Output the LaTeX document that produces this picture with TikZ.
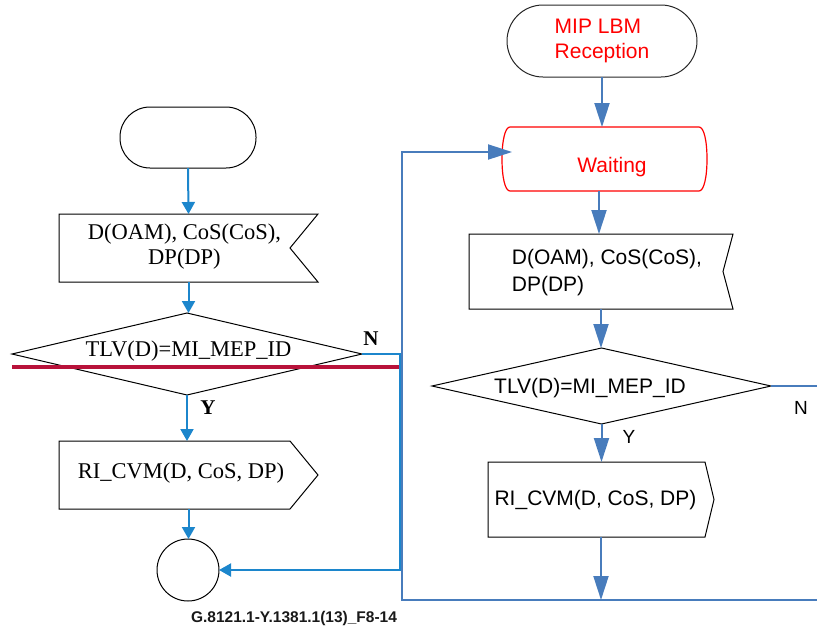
\documentclass[tikz,border=0pt]{standalone}
\usepackage{fontspec}
\setmainfont{Liberation Serif}
\newfontfamily\sansF{Liberation Sans}
\usetikzlibrary{arrows.meta,calc}
\definecolor{lblue}{RGB}{28,134,204}
\definecolor{rblue}{RGB}{72,124,188}
\definecolor{crim}{RGB}{184,18,58}
\definecolor{wred}{RGB}{255,0,0}
\begin{document}
\begin{tikzpicture}[x=1pt,y=-1pt,
  frame/.style={inner sep=0pt, outer sep=0pt},
  outline/.style={draw=black, line width=1pt},
  lserif/.style={inner sep=0pt, font=\fontsize{22.5}{25}\selectfont},
  rsans/.style={inner sep=0pt, font=\sansF\fontsize{21}{27}\selectfont},
  lbl/.style={inner sep=0pt, font=\bfseries\fontsize{21}{24}\selectfont},
  rlbl/.style={inner sep=0pt, font=\sansF\fontsize{19}{22}\selectfont},
  lline/.style={draw=lblue, line width=2pt},
  lflow/.style={lline, -{Triangle[length=12pt,width=13pt]}},
  rline/.style={draw=rblue, line width=2pt},
  rflow/.style={rline, -{Triangle[length=24pt,width=15pt]}}]
\useasboundingbox (0,0) rectangle (817,630);

% ---------- left chart ----------
\node[frame, outline, rounded corners=30pt, minimum width=136pt, minimum height=61pt] (lterm) at (188,137.5) {};

\node[frame, minimum width=259pt, minimum height=68pt] (lrecv) at (188.5,248) {};
\draw[outline] (lrecv.north west) -- (lrecv.north east) -- ($(lrecv.east)+(-28,0)$) -- (lrecv.south east) -- (lrecv.south west) -- cycle;
\node[lserif, align=center] (lrecvtxt) at (184.5,247) {D(OAM), CoS(CoS),\\DP(DP)};

\node[frame, minimum width=350pt, minimum height=82pt] (ldiam) at (187,354) {};
\draw[outline] (ldiam.north) -- (ldiam.east) -- (ldiam.south) -- (ldiam.west) -- cycle;
\node[lserif] (ldiamtxt) at (188.5,351) {TLV(D)=MI\_MEP\_ID};

\node[frame, minimum width=259pt, minimum height=68pt] (lsend) at (188.5,475) {};
\draw[outline] (lsend.north west) -- ($(lsend.north east)+(-28,0)$) -- (lsend.east) -- ($(lsend.south east)+(-28,0)$) -- (lsend.south west) -- cycle;
\node[lserif] (lsendtxt) at (181,473.5) {RI\_CVM(D, CoS, DP)};

\node[frame, outline, circle, minimum size=62pt] (lcirc) at (188,570) {};

\coordinate (redA) at (12,367);
\coordinate (redB) at (401,367);
\draw[draw=crim, line width=3.5pt] (redA) -- (redB);

\draw[lflow] (lterm.south) -- (lrecv.north);
\draw[lflow] (lrecv.south) -- (lrecv.south |- ldiam.north);
\draw[lflow] (ldiam.south) -- (ldiam.south |- lsend.north);
\draw[lflow] (lsend.south) -- (lsend.south |- lcirc.north);
\coordinate (lN1) at (400,354);
\draw[lflow] (ldiam.east) -- (lN1) -- (lN1 |- lcirc.east) -- (lcirc.east);

\node[lbl] (lN) at (371,339) {N};
\node[lbl] (lY) at (208,408) {Y};

\node[inner sep=0pt, text=black!90, font=\sansF\bfseries\fontsize{15.5}{18}\selectfont] (cap) at (294,618) {G.8121.1-Y.1381.1(13)\_F8-14};

% ---------- right chart ----------
\node[frame, draw=black!85, line width=1pt, rounded corners=36pt, minimum width=190pt, minimum height=72pt, text=wred, align=left, font=\sansF\fontsize{21}{25}\selectfont] (rterm) at (602,41) {\rule{0pt}{0pt}MIP LBM\\Reception};

\node[frame, minimum width=205pt, minimum height=64pt] (wait) at (604.5,159) {};
\draw[draw=wred, line width=1.2pt]
  ($(wait.north west)+(8,0)$) -- ($(wait.north east)+(-8,0)$)
  .. controls ($(wait.north east)+(-3,0)$) and ($(wait.east)+(0,-18)$) .. (wait.east)
  .. controls ($(wait.east)+(0,18)$) and ($(wait.south east)+(-3,0)$) .. ($(wait.south east)+(-8,0)$)
  -- ($(wait.south west)+(8,0)$)
  .. controls ($(wait.south west)+(3,0)$) and ($(wait.west)+(0,18)$) .. (wait.west)
  .. controls ($(wait.west)+(0,-18)$) and ($(wait.north west)+(3,0)$) .. cycle;
\node[rsans, text=wred] (waittxt) at (612,167) {Waiting};

\node[frame, minimum width=264pt, minimum height=75pt] (rrecv) at (601,271.5) {};
\draw[outline] (rrecv.north west) -- (rrecv.north east) -- ($(rrecv.east)+(-10,0)$) -- (rrecv.south east) -- (rrecv.south west) -- cycle;
\node[rsans, align=left] (rrecvtxt) at (607,273) {D(OAM), CoS(CoS),\\DP(DP)};

\node[frame, minimum width=339pt, minimum height=76pt] (rdiam) at (601.5,386) {};
\draw[outline] (rdiam.north) -- (rdiam.east) -- (rdiam.south) -- (rdiam.west) -- cycle;
\node[rsans] (rdiamtxt) at (590,388) {TLV(D)=MI\_MEP\_ID};

\node[frame, minimum width=226pt, minimum height=75pt] (rsend) at (601,499.5) {};
\draw[outline] (rsend.north west) -- ($(rsend.north east)+(-9,0)$) -- (rsend.east) -- ($(rsend.south east)+(-9,0)$) -- (rsend.south west) -- cycle;
\node[rsans] (rsendtxt) at (595.5,500) {RI\_CVM(D, CoS, DP)};

\coordinate (loopR) at (817,600);
\coordinate (loopBL) at (402,600);
\coordinate (loopTL) at (402,152);
\coordinate (waitin) at (512,152);
\coordinate (rNend) at (817,384);

\draw[rflow] (rterm.south) -- (rterm.south |- wait.north);
\draw[rflow] (wait.south -| 599,0) -- (599,0 |- rrecv.north);
\draw[rflow] (rrecv.south) -- (rrecv.south |- rdiam.north);
\draw[rflow] (rdiam.south) -- (rdiam.south |- rsend.north);
\draw[rflow] (rsend.south) -- (rsend.south |- loopBL);
\draw[rflow] (loopR) -- (loopBL) -- (loopTL) -- (waitin);
\draw[rline] (rdiam.east) -- (rdiam.east -| rNend);

\node[rlbl] (rN) at (801,408) {N};
\node[rlbl] (rY) at (629,437) {Y};
\end{tikzpicture}
\end{document}
